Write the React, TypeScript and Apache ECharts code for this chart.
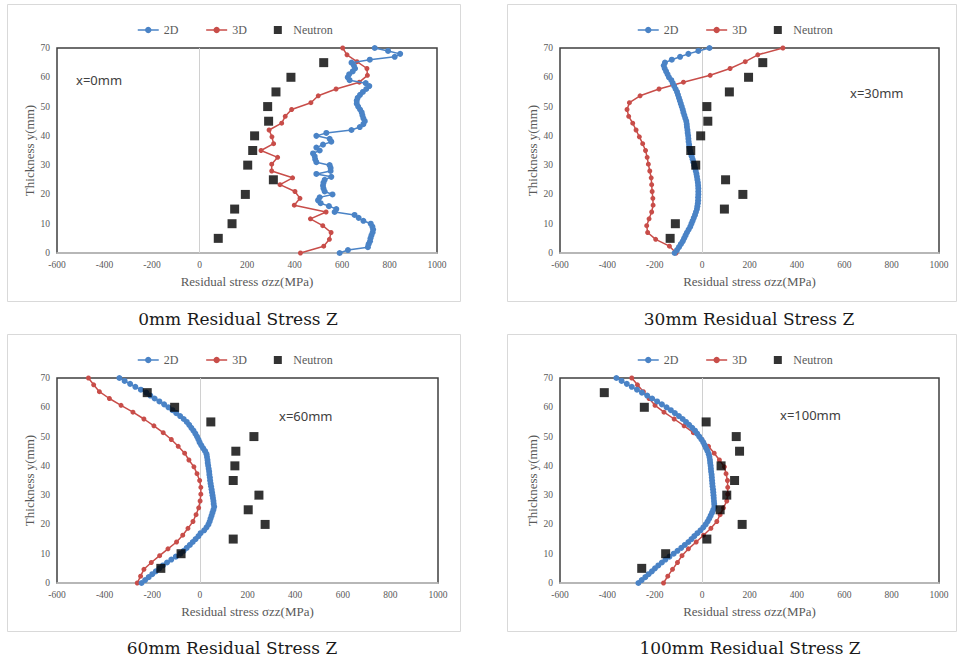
import React, { useEffect, useRef } from "react";
import * as echarts from "echarts";

// Depth positions through the thickness (mm)
const DEPTH_2D = [
  0, 1, 2, 3, 4, 5, 6, 7, 8, 9,
  10, 11, 12, 13, 14, 15, 16, 17, 18, 19,
  20, 21, 22, 23, 24, 25, 26, 27, 28, 29,
  30, 31, 32, 33, 34, 35, 36, 37, 38, 39,
  40, 41, 42, 43, 44, 45, 46, 47, 48, 49,
  50, 51, 52, 53, 54, 55, 56, 57, 58, 59,
  60, 61, 62, 63, 64, 65, 66, 67, 68, 69,
  70,
];
const DEPTH_3D = [
  0, 2.33, 4.67, 7, 9.33, 11.67, 14, 16.33, 18.67, 21,
  23.33, 25.67, 28, 30.33, 32.67, 35, 37.33, 39.67, 42, 44.33,
  46.67, 49, 51.33, 53.67, 56, 58.33, 60.67, 63, 65.33, 67.67,
  70,
];
const DEPTH_NEUTRON = [5, 10, 15, 20, 25, 30, 35, 40, 45, 50, 55, 60, 65];

// Residual stress sigma_zz (MPa), x = 0 mm
const S2D_X0 = [
  590, 625, 709, 712, 718, 720, 724, 729, 731, 728,
  721, 690, 670, 653, 569, 576, 545, 510, 499, 506,
  560, 527, 522, 520, 522, 527, 555, 492, 552, 552,
  548, 492, 487, 485, 478, 506, 492, 520, 555, 548,
  492, 534, 640, 675, 690, 696, 690, 686, 683, 676,
  668, 662, 662, 666, 676, 688, 702, 715, 700, 632,
  624, 630, 645, 655, 650, 640, 717, 822, 845, 794,
  738,
];
const S3D_X0 = [
  425, 523, 547, 554, 519, 467, 533, 399, 423, 402,
  339, 392, 304, 304, 329, 259, 312, 305, 293, 346,
  361, 388, 469, 500, 575, 673, 707, 705, 663, 621,
  603,
];
const NEU_X0 = [79, 137, 148, 193, 311, 203, 224, 232, 291, 287, 322, 385, 523];

// x = 30 mm
const S2D_X30 = [
  -116, -106, -98, -90, -82, -76, -70, -64, -57, -50,
  -45, -40, -35, -30, -26, -22, -20, -18, -17, -17,
  -16, -16, -16, -17, -18, -20, -22, -24, -27, -30,
  -33, -37, -40, -44, -48, -51, -53, -55, -57, -58,
  -59, -61, -62, -64, -65, -67, -71, -75, -79, -82,
  -86, -90, -94, -98, -102, -106, -112, -118, -124, -130,
  -140, -146, -152, -158, -162, -157, -128, -93, -58, -16,
  31,
];
const S3D_X30 = [
  -110, -138, -196, -230, -234, -224, -213, -207, -208, -211,
  -213, -215, -221, -227, -232, -239, -251, -265, -279, -293,
  -310, -317, -307, -262, -182, -79, 34, 118, 182, 235,
  341,
];
const NEU_X30 = [-135, -113, 94, 172, 99, -27, -48, -6, 24, 20, 115, 196, 256];

// x = 60 mm
const S2D_X60 = [
  -245, -230, -215, -200, -185, -170, -155, -138, -120, -101,
  -82, -68, -55, -42, -30, -18, -6, 3, 18, 28,
  36, 41, 45, 49, 53, 57, 60, 58, 57, 55,
  53, 51, 49, 47, 45, 43, 42, 40, 39, 37,
  35, 33, 32, 30, 28, 22, 14, 6, -1, -6,
  -12, -19, -27, -36, -45, -55, -68, -83, -99, -115,
  -132, -150, -170, -190, -208, -225, -248, -271, -293, -316,
  -338,
];
const S3D_X60 = [
  -263, -249, -235, -204, -169, -134, -98, -72, -50, -29,
  -16, -5, 1, 4, 4, -1, -12, -25, -46, -64,
  -91, -120, -154, -193, -235, -281, -331, -380, -422, -446,
  -468,
];
const NEU_X60 = [-164, -79, 140, 274, 203, 248, 140, 147, 151, 227, 46, -106, -221];

// x = 100 mm
const S2D_X100 = [
  -269, -255, -240, -226, -212, -199, -185, -170, -155, -138,
  -120, -104, -88, -73, -58, -45, -33, -20, -7, 5,
  15, 23, 30, 36, 42, 47, 52, 51, 50, 49,
  48, 47, 46, 44, 43, 42, 41, 40, 38, 37,
  36, 34, 33, 31, 28, 23, 17, 11, 5, -3,
  -12, -21, -30, -42, -55, -68, -82, -98, -115, -132,
  -150, -170, -190, -211, -232, -254, -275, -297, -318, -340,
  -362,
];
const S3D_X100 = [
  -163, -145, -125, -104, -85, -58, -25, 6, 37, 62,
  76, 90, 104, 108, 108, 107, 101, 94, 73, 51,
  27, -1, -37, -76, -118, -161, -199, -224, -248, -273,
  -297,
];
const NEU_X100 = [-255, -154, 20, 169, 76, 104, 137, 80, 158, 144, 17, -244, -413];

const PANELS = [
  { caption: "0mm Residual Stress Z", tag: "x=0mm", s2d: S2D_X0, s3d: S3D_X0, neu: NEU_X0 },
  { caption: "30mm Residual Stress Z", tag: "x=30mm", s2d: S2D_X30, s3d: S3D_X30, neu: NEU_X30 },
  { caption: "60mm Residual Stress Z", tag: "x=60mm", s2d: S2D_X60, s3d: S3D_X60, neu: NEU_X60 },
  { caption: "100mm Residual Stress Z", tag: "x=100mm", s2d: S2D_X100, s3d: S3D_X100, neu: NEU_X100 },
];

// Page layout for the 2x2 arrangement (px)
const LAYOUT = [
  { box: [7, 4, 453, 297], grid: [57, 48, 380, 205], tag: [76, 80], caption: [238, 319] },
  { box: [507, 4, 449, 297], grid: [560, 48, 379, 205], tag: [850, 93], caption: [749, 319] },
  { box: [7, 334, 453, 297], grid: [57, 378, 381, 205], tag: [279, 416], caption: [232, 648] },
  { box: [507, 334, 449, 297], grid: [560, 378, 379, 205], tag: [780, 415], caption: [750, 648] },
];

const BLUE = "#4a83c6";
const RED = "#c84d49";
const SERIF = "Liberation Serif";
const GREY_TEXT = "#595959";

const pairs = (xs: number[], ys: number[]) => xs.map((x, i) => [x, ys[i]]);
const plainNumber = (v: number) => String(v);

function buildOption() {
  const grid = LAYOUT.map((l) => ({
    left: l.grid[0],
    top: l.grid[1],
    width: l.grid[2],
    height: l.grid[3],
    show: true,
    borderColor: "#3f3f3f",
    borderWidth: 1.5,
    backgroundColor: "transparent",
    containLabel: false,
    outerBoundsMode: "none",
  }));

  const xAxis = LAYOUT.map((_, i) => ({
    gridIndex: i,
    type: "value",
    min: -600,
    max: 1000,
    interval: 200,
    name: "Residual stress σzz(MPa)",
    nameLocation: "middle",
    nameGap: 22,
    nameTextStyle: { fontFamily: SERIF, fontSize: 13, color: GREY_TEXT },
    axisLine: { show: true, onZero: false, lineStyle: { color: "#d0d0d0", width: 1.5 } },
    axisTick: { show: false },
    splitLine: { show: false },
    axisLabel: { fontFamily: SERIF, fontSize: 9.5, color: GREY_TEXT, margin: 7, formatter: plainNumber },
  }));

  const yAxis = LAYOUT.map((_, i) => ({
    gridIndex: i,
    type: "value",
    min: 0,
    max: 70,
    interval: 10,
    name: "Thickness y(mm)",
    nameLocation: "middle",
    nameGap: 21,
    nameRotate: 90,
    nameTextStyle: { fontFamily: SERIF, fontSize: 13, color: GREY_TEXT },
    axisLine: { show: false },
    axisTick: { show: false },
    splitLine: { show: false },
    axisLabel: { fontFamily: SERIF, fontSize: 9.5, color: GREY_TEXT, margin: 7, formatter: plainNumber },
  }));

  const series: any[] = [];
  PANELS.forEach((p, i) => {
    series.push({
      name: "2D",
      type: "line",
      xAxisIndex: i,
      yAxisIndex: i,
      data: pairs(p.s2d, DEPTH_2D),
      symbol: "circle",
      symbolSize: 6,
      lineStyle: { color: BLUE, width: 1.5 },
      itemStyle: { color: BLUE },
      z: 3,
    });
    series.push({
      name: "3D",
      type: "line",
      xAxisIndex: i,
      yAxisIndex: i,
      data: pairs(p.s3d, DEPTH_3D),
      symbol: "circle",
      symbolSize: 5,
      lineStyle: { color: RED, width: 1.5 },
      itemStyle: { color: RED },
      z: 2,
      markLine: {
        silent: true,
        symbol: "none",
        z: 1,
        label: { show: false },
        lineStyle: { color: "#d0d0d0", width: 1, type: "solid" },
        emphasis: { disabled: true },
        data: [{ xAxis: 0 }],
      },
    });
    series.push({
      name: "Neutron",
      type: "scatter",
      xAxisIndex: i,
      yAxisIndex: i,
      data: pairs(p.neu, DEPTH_NEUTRON),
      symbol: "rect",
      symbolSize: 9,
      itemStyle: { color: "#000000" },
      z: 4,
    });
  });

  const legend = LAYOUT.map((l) => ({
    left: l.box[0] + 130,
    top: l.box[1] + 20,
    padding: 0,
    orient: "horizontal",
    itemWidth: 21,
    itemHeight: 8,
    itemGap: 27,
    selectedMode: false,
    lineStyle: { width: 1.5 },
    textStyle: { fontFamily: SERIF, fontSize: 12, color: GREY_TEXT },
    data: [
      { name: "2D" },
      { name: "3D" },
      { name: "Neutron", icon: "path://M0,0H10V10H0Z" },
    ],
  }));

  const graphic: any[] = [];
  LAYOUT.forEach((l, i) => {
    graphic.push({
      type: "rect",
      silent: true,
      z: -10,
      shape: { x: l.box[0] + 0.5, y: l.box[1] + 0.5, width: l.box[2], height: l.box[3] },
      style: { fill: "transparent", stroke: "#d9d9d9", lineWidth: 1 },
    });
    graphic.push({
      type: "text",
      silent: true,
      x: l.caption[0],
      y: l.caption[1],
      style: {
        text: PANELS[i].caption,
        font: '17px "DejaVu Serif"',
        fill: "#1a1a1a",
        align: "center",
        verticalAlign: "middle",
      },
    });
    graphic.push({
      type: "text",
      silent: true,
      x: l.tag[0],
      y: l.tag[1],
      style: {
        text: PANELS[i].tag,
        font: '13px "Noto Sans"',
        fill: "#404040",
        align: "left",
        verticalAlign: "middle",
      },
    });
  });

  return {
    animation: false,
    backgroundColor: "#ffffff",
    grid,
    xAxis,
    yAxis,
    legend,
    series,
    graphic,
  };
}

export default function App() {
  const ref = useRef<HTMLDivElement>(null);

  useEffect(() => {
    if (!ref.current) return;
    const chart = echarts.init(ref.current, null, { renderer: "svg" });
    chart.setOption(buildOption() as any);
    return () => chart.dispose();
  }, []);

  return (
    <div
      ref={ref}
      style={{ position: "fixed", left: 0, top: 0, width: 957, height: 664, background: "#fff" }}
    />
  );
}
